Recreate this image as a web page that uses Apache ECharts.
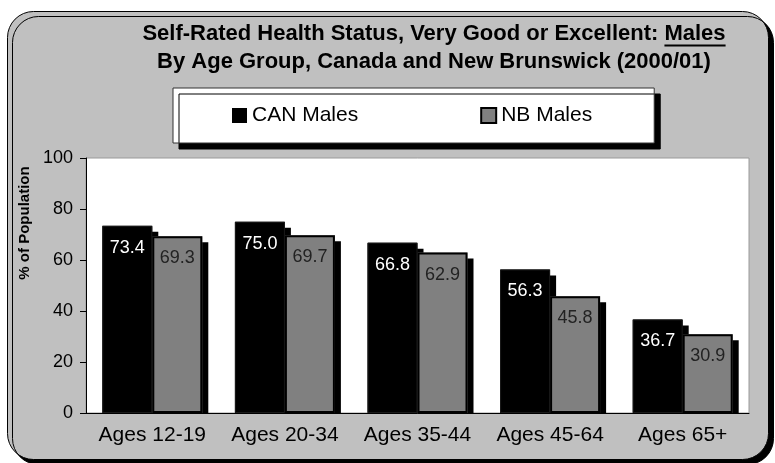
<!DOCTYPE html>
<html>
<head>
<meta charset="utf-8">
<script src="https://cdn.jsdelivr.net/npm/echarts@6/dist/echarts.min.js"></script>
<style>
  html, body { margin: 0; padding: 0; background: #ffffff; }
  #chart { width: 775px; height: 463px; }
</style>
</head>
<body>
<div id="chart"></div>
<script>
// Self-rated health (very good / excellent), males, by age group
const categories = ['Ages 12-19', 'Ages 20-34', 'Ages 35-44', 'Ages 45-64', 'Ages 65+'];
const canMales = [73.4, 75.0, 66.8, 56.3, 36.7];
const nbMales = [69.3, 69.7, 62.9, 45.8, 30.9];
const seriesNames = ['CAN Males', 'NB Males'];
const yMin = 0, yMax = 100, yStep = 20;
const titleLine1 = 'Self-Rated Health Status, Very Good or Excellent: ';
const titleUnderlined = 'Males';
const titleLine2 = 'By Age Group, Canada and New Brunswick (2000/01)';
const yAxisTitle = '% of Population';

const FONT = '"Liberation Sans", Arial, Helvetica, sans-serif';
const TITLE_FONT = 'bold 22px ' + FONT;
const titleCenterX = 434;

const chart = echarts.init(document.getElementById('chart'), null, { renderer: 'canvas' });

// measure the first title line so "Males" can be underlined
const mctx = document.createElement('canvas').getContext('2d');
mctx.font = TITLE_FONT;
const fullW = mctx.measureText(titleLine1 + titleUnderlined).width;
const ulW = mctx.measureText(titleUnderlined).width;
const ulX2 = titleCenterX + fullW / 2;
const ulX1 = ulX2 - ulW;

const barLabel = (color) => ({
  show: true,
  position: 'insideTop',
  distance: 13,
  fontSize: 18,
  fontFamily: FONT,
  color: color,
  formatter: (p) => p.value.toFixed(1)
});

const dropShadow = { shadowColor: '#000000', shadowBlur: 0, shadowOffsetX: 6, shadowOffsetY: 6 };
const BAR_W = 50;

const option = {
  backgroundColor: '#ffffff',
  animation: false,
  textStyle: { fontFamily: FONT },
  grid: {
    left: 86, right: 26, top: 158, bottom: 50,
    show: true, backgroundColor: '#ffffff', borderColor: '#9a9a9a', borderWidth: 1
  },
  legend: {
    left: 173, top: 88,
    icon: 'rect',
    itemWidth: 15, itemHeight: 15, itemGap: 122,
    padding: [17, 62, 17, 59],
    backgroundColor: '#ffffff',
    borderColor: '#333333', borderWidth: 1,
    shadowColor: '#000000', shadowBlur: 0, shadowOffsetX: 6, shadowOffsetY: 6,
    textStyle: { fontSize: 21, fontFamily: FONT, color: '#000000' },
    itemStyle: { shadowColor: 'rgba(0,0,0,0)', shadowOffsetX: 0, shadowOffsetY: 0 },
    data: [
      { name: seriesNames[0], itemStyle: { color: '#000000', borderWidth: 0 } },
      { name: seriesNames[1], itemStyle: { color: '#808080', borderColor: '#000000', borderWidth: 2 } }
    ]
  },
  xAxis: [
    {
      type: 'category',
      data: categories,
      z: 10,
      axisLine: { lineStyle: { color: '#000000', width: 1 } },
      axisTick: { length: 6, lineStyle: { color: '#000000' } },
      axisLabel: { interval: 0, fontSize: 21, color: '#000000', margin: 12, fontFamily: FONT }
    },
    {
      // same categories again, carrying the bar outlines drawn above the shadows
      type: 'category',
      data: categories,
      show: false
    }
  ],
  yAxis: {
    type: 'value',
    min: yMin, max: yMax, interval: yStep,
    z: 10,
    axisLine: { show: true, lineStyle: { color: '#000000', width: 1 } },
    axisTick: { show: true, length: 6, lineStyle: { color: '#000000' } },
    splitLine: { show: false },
    axisLabel: { fontSize: 18, color: '#000000', margin: 13, fontFamily: FONT }
  },
  series: [
    {
      name: seriesNames[0],
      type: 'bar',
      data: canMales,
      barWidth: BAR_W,
      barGap: '0%',
      itemStyle: Object.assign({ color: '#000000' }, dropShadow),
      label: barLabel('#ffffff')
    },
    {
      name: seriesNames[1],
      type: 'bar',
      data: nbMales,
      barWidth: BAR_W,
      barGap: '0%',
      itemStyle: Object.assign({ color: '#808080' }, dropShadow),
      label: barLabel('#222222')
    },
    {
      name: 'CAN outline',
      type: 'bar',
      xAxisIndex: 1,
      data: canMales,
      barWidth: BAR_W,
      barGap: '0%',
      silent: true,
      z: 3,
      itemStyle: { color: 'rgba(0,0,0,0)', borderColor: '#1a1a1a', borderWidth: 1 }
    },
    {
      name: 'NB outline',
      type: 'bar',
      xAxisIndex: 1,
      data: nbMales,
      barWidth: BAR_W,
      barGap: '0%',
      silent: true,
      z: 3,
      itemStyle: { color: 'rgba(0,0,0,0)', borderColor: '#000000', borderWidth: 2 }
    }
  ],
  graphic: [
    {
      id: 'frame', type: 'rect', z: -10, silent: true,
      shape: { x: 7.5, y: 11.5, width: 761, height: 448, r: 26 },
      style: {
        fill: '#c0c0c0', stroke: '#000000', lineWidth: 1,
        shadowColor: '#000000', shadowBlur: 0, shadowOffsetX: 5, shadowOffsetY: 5
      }
    },
    {
      id: 'title1', type: 'text', z: 5, silent: true,
      x: titleCenterX, y: 34,
      style: {
        text: titleLine1 + titleUnderlined, font: TITLE_FONT, fill: '#000000',
        align: 'center', verticalAlign: 'middle'
      }
    },
    {
      id: 'titleUnderline', type: 'line', z: 5, silent: true,
      shape: { x1: ulX1, y1: 45.5, x2: ulX2, y2: 45.5 },
      style: { stroke: '#000000', lineWidth: 2 }
    },
    {
      id: 'title2', type: 'text', z: 5, silent: true,
      x: titleCenterX, y: 62,
      style: {
        text: titleLine2, font: TITLE_FONT, fill: '#000000',
        align: 'center', verticalAlign: 'middle'
      }
    },
    {
      id: 'yName', type: 'text', z: 5, silent: true,
      x: 25, y: 223, rotation: Math.PI / 2,
      style: {
        text: yAxisTitle, font: 'bold 15px ' + FONT, fill: '#000000',
        align: 'center', verticalAlign: 'middle'
      }
    }
  ]
};

chart.setOption(option);

// bar shadows stop at the category axis line: mask the strip just below it
const axisY = chart.convertToPixel({ yAxisIndex: 0 }, yMin);
const leftX = chart.convertToPixel({ xAxisIndex: 0 }, 0) - 80;
const rightX = chart.convertToPixel({ xAxisIndex: 0 }, categories.length - 1) + 80;
chart.setOption({
  graphic: [{
    id: 'shadowMask', type: 'rect', z: 3, silent: true,
    shape: { x: leftX, y: axisY + 0.5, width: rightX - leftX, height: 8 },
    style: { fill: '#c0c0c0' }
  }]
});
</script>
</body>
</html>
